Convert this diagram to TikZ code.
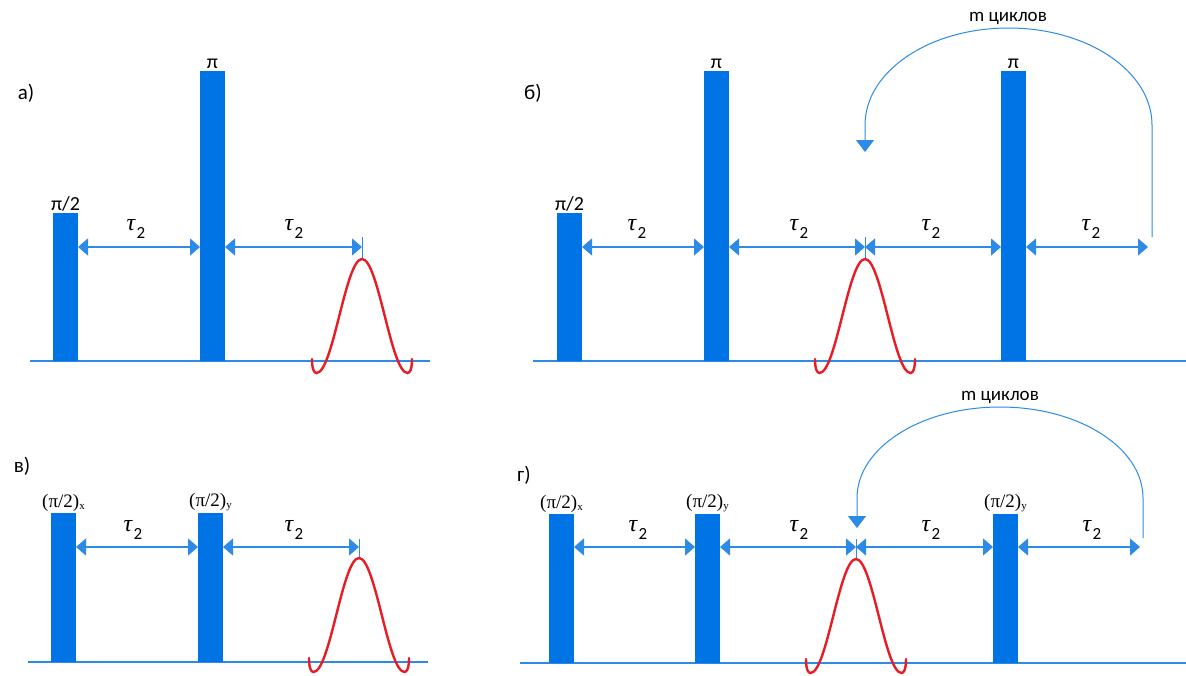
\documentclass[tikz,border=0pt]{standalone}
\usepackage{fontspec}
\setmainfont{Liberation Serif}
\newfontfamily\calib{Carlito}
\usetikzlibrary{arrows.meta}
\definecolor{barblue}{RGB}{0,116,228}
\definecolor{lineblue}{RGB}{45,138,230}
\definecolor{wavered}{RGB}{232,28,36}
\tikzset{
  bar/.style={rectangle, fill=barblue, inner sep=0pt, outer sep=0pt, minimum width=25pt, anchor=south},
  axisline/.style={draw=lineblue, line width=1.3pt},
  dim/.style={draw=lineblue, line width=1.2pt, <->, >={Triangle[length=10pt,width=17pt]}},
  cyclearrow/.style={draw=lineblue, line width=1pt, ->, >={Triangle[length=12pt,width=18pt]}},
  tickline/.style={draw=lineblue, line width=1pt},
  pulselabel/.style={anchor=south, inner sep=1.5pt, font=\fontsize{19}{21}\selectfont},
  pilabel/.style={anchor=south, inner sep=1.5pt, font=\calib\fontsize{20}{22}\selectfont},
  taulabel/.style={inner sep=0pt, font=\fontsize{24}{26}\selectfont},
  panellabel/.style={inner sep=0pt, font=\calib\fontsize{21}{24}\selectfont},
  cyclelabel/.style={inner sep=0pt, font=\calib\fontsize{19}{22}\selectfont},
  wavestyle/.style={draw=wavered, line width=2.4pt, line cap=round},
  echo/.pic={\draw[wavestyle] (-50,100) .. controls (-50,110) and (-48,114) .. (-45.5,114)
      .. controls (-28.96,114) and (-16.54,0) .. (0,0)
      .. controls (16.54,0) and (28.96,114) .. (45.5,114)
      .. controls (48,114) and (50,110) .. (50,100);}
}
\newcommand{\subx}[1]{\raisebox{-2pt}{\fontsize{11}{11}\selectfont #1}}
\newcommand{\tautwo}{{\itshape τ}\kern1.5pt\raisebox{-8pt}{\calib\fontsize{17}{17}\selectfont 2}}
\begin{document}
\begin{tikzpicture}[x=1pt, y=-1pt]
\useasboundingbox[fill=white] (0,0) rectangle (1186,675);

% ---------- panel a ----------
\node[panellabel] (la) at (26,93) {а)};
\draw[axisline] (30,361) -- (430,361);
\node[bar, minimum height=148pt] (a1) at (65.5,361) {};
\node[bar, minimum height=290pt] (a2) at (212.5,361) {};
\node[pilabel] (a1t) at (a1.north) {π/2};
\node[pilabel, inner sep=2.5pt] (a2t) at (a2.north) {π};
\coordinate (ya) at (0,247);
\coordinate (ea) at (362,247);
\draw[dim] (a1.east |- ya) -- (a2.west |- ya);
\draw[dim] (a2.east |- ya) -- (ea);
\draw[tickline] ([yshift=10pt]ea) -- ([yshift=-11pt]ea);
\node[taulabel] (ta1) at (136,229) {\tautwo};
\node[taulabel] (ta2) at (294,229) {\tautwo};
\pic at (362,259) {echo};

% ---------- panel b ----------
\node[panellabel] (lb) at (533,93) {б)};
\draw[axisline] (533,361) -- (1186,361);
\node[bar, minimum height=148pt] (b1) at (569.5,361) {};
\node[bar, minimum height=290pt] (b2) at (716.5,361) {};
\node[bar, minimum height=290pt] (b3) at (1013.5,361) {};
\node[pilabel] (b1t) at (b1.north) {π/2};
\node[pilabel, inner sep=2.5pt] (b2t) at (b2.north) {π};
\node[pilabel, inner sep=2.5pt] (b3t) at (b3.north) {π};
\coordinate (yb) at (0,247);
\coordinate (eb) at (865,247);
\coordinate (eb2) at (1148,247);
\draw[dim] (b1.east |- yb) -- (b2.west |- yb);
\draw[dim] (b2.east |- yb) -- (eb);
\draw[dim] (eb) -- (b3.west |- yb);
\draw[dim] (b3.east |- yb) -- (eb2);
\draw[tickline] ([yshift=10pt]eb) -- ([yshift=-11pt]eb);
\node[taulabel] (tb1) at (637,229) {\tautwo};
\node[taulabel] (tb2) at (799,229) {\tautwo};
\node[taulabel] (tb3) at (931,229) {\tautwo};
\node[taulabel] (tb4) at (1091,229) {\tautwo};
\pic at (865,259) {echo};
\coordinate (cb0) at (1152,237);
\coordinate (cb1) at (865,152);
\draw[cyclearrow] (cb0) -- (1152,125) .. controls (1152,71.4) and (1087.8,28) .. (1008.5,28)
   .. controls (929.2,28) and (865,71.4) .. (865,125) -- (cb1);
\node[cyclelabel] (mb) at (1008,18) {m циклов};

% ---------- panel v ----------
\node[panellabel] (lv) at (22,466) {в)};
\draw[axisline] (28,662) -- (428,662);
\node[bar, minimum height=149pt] (v1) at (63.5,662) {};
\node[bar, minimum height=149pt] (v2) at (210.5,662) {};
\node[pulselabel] (v1t) at (v1.north) {(π/2)\subx{x}};
\node[pulselabel] (v2t) at (v2.north) {(π/2)\subx{y}};
\coordinate (yv) at (0,547);
\coordinate (ev) at (359,547);
\draw[dim] (v1.east |- yv) -- (v2.west |- yv);
\draw[dim] (v2.east |- yv) -- (ev);
\draw[tickline] ([yshift=8pt]ev) -- ([yshift=-11pt]ev);
\node[taulabel] (tv1) at (133,530) {\tautwo};
\node[taulabel] (tv2) at (294,530) {\tautwo};
\pic at (359,558) {echo};

% ---------- panel g ----------
\node[panellabel] (lg) at (524,475) {г)};
\draw[axisline] (520,663) -- (1186,663);
\node[bar, minimum height=149pt] (g1) at (561.5,663) {};
\node[bar, minimum height=149pt] (g2) at (707.5,663) {};
\node[bar, minimum height=149pt] (g3) at (1005.5,663) {};
\node[pulselabel] (g1t) at (g1.north) {(π/2)\subx{x}};
\node[pulselabel] (g2t) at (g2.north) {(π/2)\subx{y}};
\node[pulselabel] (g3t) at (g3.north) {(π/2)\subx{y}};
\coordinate (yg) at (0,547);
\coordinate (eg) at (856,547);
\coordinate (eg2) at (1140,547);
\draw[dim] (g1.east |- yg) -- (g2.west |- yg);
\draw[dim] (g2.east |- yg) -- (eg);
\draw[dim] (eg) -- (g3.west |- yg);
\draw[dim] (g3.east |- yg) -- (eg2);
\draw[tickline] ([yshift=8pt]eg) -- ([yshift=-12pt]eg);
\node[taulabel] (tg1) at (638,530) {\tautwo};
\node[taulabel] (tg2) at (799,530) {\tautwo};
\node[taulabel] (tg3) at (931,530) {\tautwo};
\node[taulabel] (tg4) at (1092,530) {\tautwo};
\pic at (856,559) {echo};
\coordinate (cg0) at (1143,538);
\coordinate (cg1) at (857,528);
\draw[cyclearrow] (cg0) -- (1143,498) .. controls (1143,447.7) and (1079,407) .. (1000,407)
   .. controls (921,407) and (857,447.7) .. (857,498) -- (cg1);
\node[cyclelabel] (mg) at (1000,397) {m циклов};
\end{tikzpicture}
\end{document}
